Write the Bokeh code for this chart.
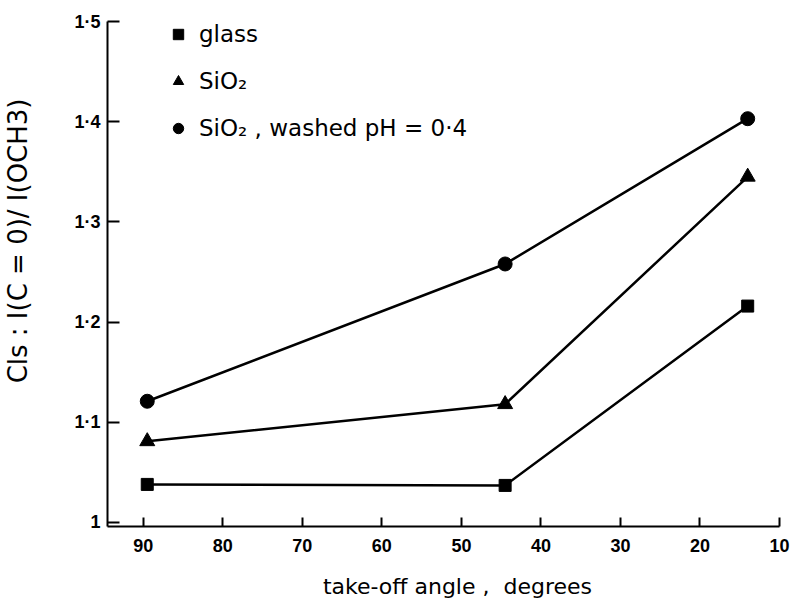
from bokeh.plotting import figure
from bokeh.models import Range1d, FixedTicker, Legend, LegendItem
from bokeh.embed import file_html
from bokeh.resources import INLINE

# data
angle = [89.5, 44.5, 14.0]
glass = [1.038, 1.037, 1.216]
sio2 = [1.081, 1.118, 1.345]
sio2_washed = [1.121, 1.258, 1.403]

x_ticks = [90, 80, 70, 60, 50, 40, 30, 20, 10]
y_ticks = [1.0, 1.1, 1.2, 1.3, 1.4, 1.5]
y_tick_labels = ["1", "1·1", "1·2", "1·3", "1·4", "1·5"]

series_labels = ["glass", "SiO₂", "SiO₂ , washed pH = 0·4"]
x_label = "\u00a0\u00a0\u00a0\u00a0take-off angle ,\u00a0 degrees"
y_label = "\u00a0" * 8 + "Cls : I(C = 0)/ I(OCH3)"

p = figure(width=792, height=606, output_backend="svg", toolbar_location=None,
           x_range=Range1d(94.5, 10), y_range=Range1d(0.996, 1.5),
           min_border_left=104, min_border_right=13, min_border_top=21, min_border_bottom=80)
p.outline_line_color = None
p.xgrid.visible = False
p.ygrid.visible = False
p.background_fill_color = "white"
p.border_fill_color = "white"

TICKFONT = "Liberation Sans"
FONT = "DejaVu Sans"

for ax in (p.xaxis[0], p.yaxis[0]):
    ax.axis_line_width = 2
    ax.axis_line_color = "black"
    ax.major_tick_line_width = 2
    ax.major_tick_line_color = "black"
    ax.minor_tick_line_color = None
    ax.major_tick_out = 0
    ax.major_label_text_font = TICKFONT
    ax.major_label_text_font_style = "bold"
    ax.major_label_text_font_size = "18px"
    ax.major_label_text_color = "black"
    ax.axis_label_text_font = FONT
    ax.axis_label_text_font_style = "normal"
    ax.axis_label_text_font_size = "22px"
    ax.axis_label_text_color = "black"

p.xaxis.ticker = FixedTicker(ticks=x_ticks)
p.xaxis.major_tick_in = 9
p.xaxis.major_label_standoff = 12
p.xaxis.axis_label = x_label
p.xaxis.axis_label_standoff = 19

p.yaxis.ticker = FixedTicker(ticks=y_ticks)
p.yaxis.major_label_overrides = {t: l for t, l in zip(y_ticks, y_tick_labels)}
p.yaxis.major_tick_in = 12
p.yaxis.major_label_standoff = 7
p.yaxis.axis_label = y_label
p.yaxis.axis_label_text_font_size = "26px"
p.yaxis.axis_label_standoff = 38

lw = 2.5
p.line(angle, glass, line_color="black", line_width=lw)
p.line(angle, sio2, line_color="black", line_width=lw)
p.line(angle, sio2_washed, line_color="black", line_width=lw)
r1 = p.scatter(angle, glass, marker="square", size=12, color="black")
r2 = p.scatter(angle, sio2, marker="triangle", size=15, color="black")
r3 = p.scatter(angle, sio2_washed, marker="circle", size=14, color="black")

legend = Legend(items=[LegendItem(label=series_labels[0], renderers=[r1]),
                       LegendItem(label=series_labels[1], renderers=[r2]),
                       LegendItem(label=series_labels[2], renderers=[r3])],
                location=(58, 384), orientation="vertical")
legend.border_line_color = None
legend.background_fill_alpha = 0
legend.label_text_font = FONT
legend.label_text_font_size = "23px"
legend.label_text_color = "black"
legend.glyph_width = 26
legend.glyph_height = 26
legend.label_height = 28
legend.label_standoff = 8
legend.spacing = 19
legend.padding = 0
legend.margin = 0
p.add_layout(legend, "center")

open("out.html", "w").write(file_html(p, INLINE))
